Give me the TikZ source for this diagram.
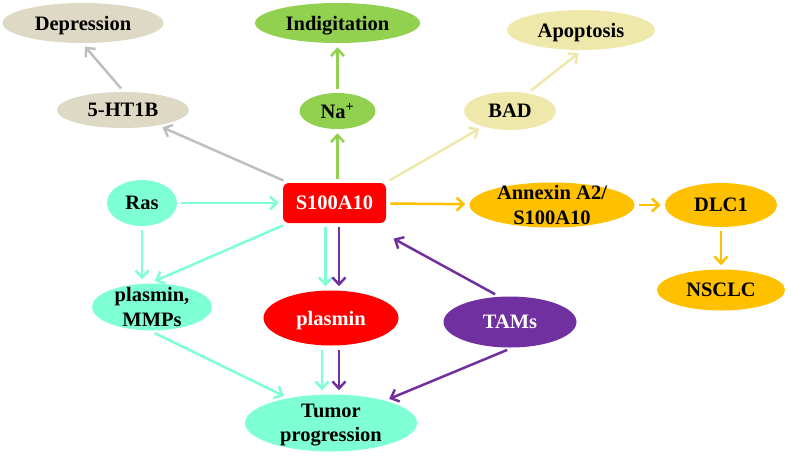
\documentclass[tikz,border=0pt]{standalone}
\usepackage{fontspec}
\setmainfont{Liberation Serif}
\usepackage{xcolor}
\usepackage{tikz}
\usetikzlibrary{positioning,shapes.geometric,arrows.meta}
\definecolor{htbeige}{RGB}{221,217,196}
\definecolor{htgray}{RGB}{191,191,191}
\definecolor{nagreen}{RGB}{146,208,80}
\definecolor{badyellow}{RGB}{238,232,170}
\definecolor{rasaqua}{RGB}{127,255,212}
\definecolor{annorange}{RGB}{255,192,0}
\definecolor{tampurple}{RGB}{112,48,160}

\begin{document}
\begin{tikzpicture}[x=1pt,y=-1pt,on grid,>={Straight Barb[length=7pt,width=13pt]},line width=2.5pt,font=\fontsize{20.5}{24.5}\selectfont\bfseries]
\tikzstyle{oval}=[ellipse,inner xsep=0pt,inner ysep=-8pt,text depth=0pt,align=center]
\tikzstyle{link}=[->,shorten <=3pt,shorten >=3pt]
\useasboundingbox (0,0) rectangle (791,455);
\node[fill=red,text=white,rounded corners=6pt,minimum width=103pt,minimum height=40pt,inner sep=0pt,text depth=0pt] (s100) at (334.5,203) {S100A10};
\node[oval,fill=htbeige,minimum width=132pt,minimum height=36pt,above left=93pt and 211.5pt of s100] (ht) {5-HT1B};
\node[oval,fill=htbeige,minimum width=161pt,minimum height=40pt,above left=87pt and 40pt of ht] (dep) {Depression};
\node[oval,fill=nagreen,minimum width=76pt,minimum height=36pt,above right=92pt and 3pt of s100] (na) {Na\textsuperscript{+}};
\node[oval,fill=nagreen,minimum width=165pt,minimum height=40pt,above=88pt of na] (ind) {Indigitation};
\node[oval,fill=badyellow,minimum width=92pt,minimum height=38pt,above right=92pt and 175.5pt of s100] (bad) {BAD};
\node[oval,fill=badyellow,minimum width=148pt,minimum height=40pt,above right=81pt and 71pt of bad] (apo) {Apoptosis};
\node[oval,fill=rasaqua,minimum width=70pt,minimum height=46pt,left=192.5pt of s100] (ras) {Ras};
\node[oval,fill=annorange,minimum width=165pt,minimum height=45pt,below right=2pt and 217.5pt of s100] (ann) {Annexin A2/\\S100A10};
\node[oval,fill=annorange,minimum width=112pt,minimum height=44pt,right=169pt of ann] (dlc) {DLC1};
\node[oval,fill=annorange,minimum width=128pt,minimum height=41pt,below=85pt of dlc] (nsclc) {NSCLC};
\node[oval,fill=rasaqua,minimum width=120pt,minimum height=47pt,below right=104pt and 10pt of ras] (mmp) {plasmin,\\MMPs};
\node[oval,fill=red,text=white,minimum width=135pt,minimum height=55pt,below left=115pt and 3.5pt of s100] (pla) {plasmin};
\node[oval,fill=tampurple,text=white,minimum width=133pt,minimum height=51pt,below right=4pt and 179pt of pla] (tams) {TAMs};
\node[oval,fill=rasaqua,minimum width=172pt,minimum height=57pt,below=105pt of pla] (tum) {Tumor\\progression};
\draw[link,htgray] (s100) -- (ht);
\draw[link,htgray] (ht.north) -- (dep.south);
\draw[link,nagreen] (na |- s100.north) -- (na);
\draw[link,nagreen] (na) -- (ind);
\draw[link,badyellow] (s100.north east) -- (bad);
\draw[link,badyellow] (bad.45) -- (apo.south);
\draw[link,rasaqua] (ras) -- (s100);
\draw[link,rasaqua] (ras) -- (ras |- mmp.north);
\draw[link,rasaqua] (s100) -- (mmp.north);
\draw[link,rasaqua] ([xshift=-9pt]s100.south) -- ([xshift=-9pt]s100.south |- pla.north);
\draw[link,tampurple] ([xshift=4.5pt]s100.south) -- ([xshift=4.5pt]s100.south |- pla.north);
\draw[link,rasaqua] ([xshift=-9pt]pla.south) -- ([xshift=-9pt]pla.south |- tum.north);
\draw[link,tampurple] ([xshift=8pt]pla.south) -- ([xshift=8pt]pla.south |- tum.north);
\draw[link,rasaqua] (mmp.south) -- (tum.150);
\draw[link,tampurple,shorten >=30pt] (tams.115) -- ([xshift=-20pt]s100.south east);
\draw[link,tampurple] (tams.south) -- (tum);
\draw[link,annorange] (s100) -- (ann);
\draw[link,annorange] (ann) -- (dlc);
\draw[link,annorange] (dlc) -- (nsclc);
\end{tikzpicture}
\end{document}
